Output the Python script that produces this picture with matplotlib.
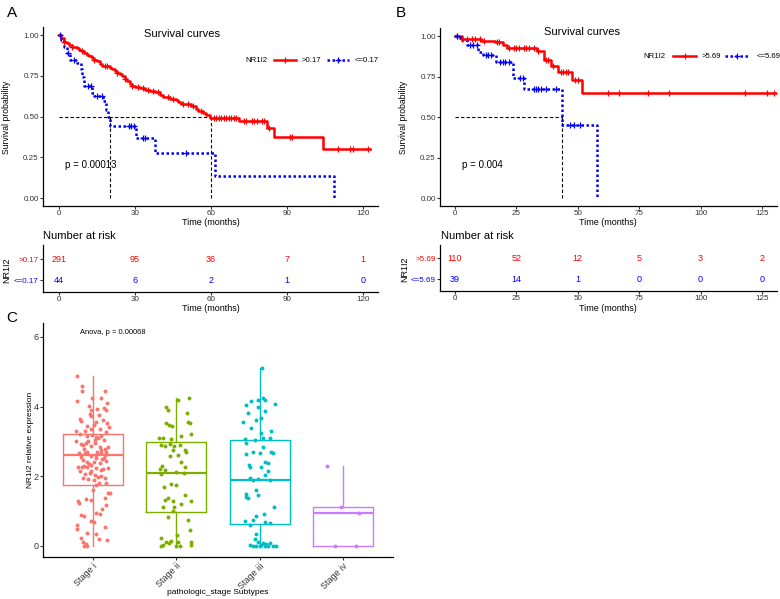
import matplotlib
matplotlib.use('Agg')
import matplotlib.pyplot as plt
import numpy as np
from matplotlib.lines import Line2D

plt.rcParams['font.family'] = ['Liberation Sans', 'DejaVu Sans']

# ---------------- data ----------------
# Panel A (cutoff 0.17)
red_A_t = [0, 1, 2, 3, 4, 5, 6, 7, 8, 9, 10, 11, 12, 13, 14, 15, 16, 17, 20, 21, 22, 23, 24, 25, 26,
           27, 28, 29, 30, 32, 34, 36, 38, 40, 41, 44, 46, 47, 48, 50, 52, 54, 55, 57, 58, 59.5, 71, 82, 85, 104]
red_A_s = [1.0, 0.98, 0.96, 0.95, 0.94, 0.93, 0.925, 0.92, 0.91, 0.90, 0.89, 0.88, 0.87, 0.86, 0.85, 0.84,
           0.82, 0.81, 0.80, 0.79, 0.78, 0.77, 0.76, 0.75, 0.73, 0.72, 0.70, 0.69, 0.68, 0.675, 0.665, 0.66,
           0.65, 0.635, 0.62, 0.61, 0.60, 0.59, 0.58, 0.575, 0.565, 0.545, 0.535, 0.52, 0.51, 0.492, 0.474,
           0.427, 0.376, 0.30]
red_A_end = 122.8
red_A_censor = [2, 5, 9, 14, 18, 19, 23, 26, 29, 31, 33, 35, 37, 39, 43, 45, 49, 51, 53, 56, 61, 62, 63, 64,
                65, 66, 67, 68, 69, 70, 73, 74, 76, 77, 78, 80, 81, 83, 91, 92, 110, 115, 116, 122]
blue_A_t = [0, 1, 2, 3, 4.5, 7, 8.5, 9.2, 9.8, 13, 14, 17.5, 18.5, 19.2, 20.1, 30.5, 37.8, 61.6, 108.7]
blue_A_s = [1.0, 0.97, 0.93, 0.89, 0.85, 0.83, 0.79, 0.74, 0.69, 0.645, 0.625, 0.595, 0.54, 0.50, 0.44,
            0.368, 0.276, 0.138, 0.0]
blue_A_end = 108.7
blue_A_censor = [0.5, 3.7, 6, 11.5, 12.5, 15, 17, 27.5, 28.5, 29.5, 33, 34, 50]
median_A = [20, 60]
risk_times_A = [0, 30, 60, 90, 120]
risk_hi_A = [291, 95, 36, 7, 1]
risk_lo_A = [44, 6, 2, 1, 0]
labels_A = ['>0.17', '<=0.17']

# Panel B (cutoff 5.69)
red_B_t = [0, 2.7, 10.5, 16.3, 19.7, 21, 33.3, 36.2, 39.1, 42, 47.5, 51.8]
red_B_s = [1.0, 0.98, 0.97, 0.963, 0.946, 0.926, 0.905, 0.85, 0.813, 0.78, 0.727, 0.65]
red_B_end = 131
red_B_censor = [1, 3, 5, 7, 8, 10, 12, 17, 18, 22, 24, 25, 26, 28, 29, 30, 32, 34, 37, 38, 40, 43, 44,
                45, 46, 49, 50, 62.4, 66.6, 78.7, 87.2, 118, 127, 130]
blue_B_t = [0, 2, 4.8, 9.5, 11.4, 16.9, 23.7, 28, 43.7, 58]
blue_B_s = [1.0, 0.977, 0.946, 0.90, 0.885, 0.84, 0.74, 0.675, 0.45, 0.0]
blue_B_end = 58
blue_B_censor = [1, 6, 7.5, 9, 12.5, 13.5, 14.5, 18.5, 19.5, 20.5, 22, 26.5, 27.5, 32, 33, 34, 35, 37,
                 41, 47, 48.5, 51]
median_B = [43.7]
risk_times_B = [0, 25, 50, 75, 100, 125]
risk_hi_B = [110, 52, 12, 5, 3, 2]
risk_lo_B = [39, 14, 1, 0, 0, 0]
labels_B = ['>5.69', '<=5.69']

# Panel C
stages = ['Stage i', 'Stage ii', 'Stage iii', 'Stage iv']
stage_colors = ['#F8766D', '#7CAE00', '#00BFC4', '#C77CFF']
box_q1 = [1.75, 0.97, 0.63, 0.0]
box_med = [2.61, 2.10, 1.90, 0.95]
box_q3 = [3.22, 2.99, 3.03, 1.11]
box_lo = [0.0, 0.0, 0.0, 0.0]
box_hi = [4.88, 4.24, 5.10, 2.30]

stage1_points = [
    (4.89, -0.19), (4.58, -0.13), (4.45, -0.13), (4.15, -0.19), (4.24, -0.01), (4.24, 0.10), (4.45, 0.14),
    (4.10, 0.17), (4.03, -0.05), (3.91, -0.02), (3.94, 0.05), (3.96, 0.13), (3.91, 0.15), (3.65, -0.16),
    (3.59, -0.14), (3.79, -0.04), (3.72, -0.02), (3.75, 0.07), (3.62, 0.12), (3.52, 0.17), (3.41, 0.19),
    (3.43, -0.07), (3.48, 0.01), (3.35, 0.08), (3.29, -0.21), (3.22, -0.16), (3.29, -0.10), (3.16, -0.07),
    (3.19, -0.01), (3.12, 0.04), (3.16, 0.10), (3.26, 0.15), (3.05, 0.13), (3.00, -0.20), (2.93, -0.14),
    (2.97, -0.09), (2.87, -0.03), (2.95, 0.02), (2.84, 0.08), (2.78, 0.14), (2.78, -0.11), (2.71, -0.07),
    (2.66, -0.17), (2.71, 0.05), (2.66, 0.10), (2.71, 0.16), (2.57, -0.02), (2.52, 0.04), (2.52, 0.13),
    (2.47, -0.12), (2.42, -0.07), (2.42, 0.01), (2.38, 0.08), (2.28, -0.18), (2.28, -0.13), (2.28, -0.07),
    (2.33, -0.02), (2.23, 0.18), (2.23, 0.04), (2.18, 0.10), (2.14, -0.16), (2.07, -0.10), (2.09, -0.04),
    (2.04, 0.02), (1.94, -0.12), (1.92, -0.06), (1.99, 0.06), (1.94, 0.14), (1.75, 0.03), (1.80, 0.07),
    (1.80, 0.16), (1.61, 0.00), (1.53, 0.18), (1.51, 0.20), (1.37, 0.14), (1.34, -0.09), (1.32, -0.02),
    (1.29, -0.18), (1.23, -0.17), (1.18, 0.15), (1.05, 0.11), (0.94, 0.04), (0.89, -0.14), (0.87, -0.11),
    (0.91, 0.08), (0.73, -0.03), (0.70, 0.01), (0.60, -0.19), (0.48, -0.19), (0.54, 0.14), (0.38, -0.07),
    (0.34, 0.04), (0.24, -0.15), (0.19, 0.07), (0.17, 0.17), (0.11, -0.12), (0.05, -0.09), (0.01, -0.07),
    (0.01, -0.11), (2.35, -0.05), (2.62, 0.03), (2.90, -0.12), (3.05, 0.02), (2.20, 0.12), (2.55, -0.15),
    (2.75, 0.09), (3.35, -0.03), (2.45, 0.16), (2.15, -0.02), (2.68, -0.10), (3.10, 0.06), (2.00, 0.09),
    (2.85, 0.18), (3.55, 0.04), (2.30, -0.11), (2.50, 0.11), (1.90, 0.01), (3.00, -0.06), (2.60, 0.14),
]
stage2_points = [
    (4.24, 0.15), (4.20, 0.02), (3.98, -0.12), (3.91, -0.10), (3.83, 0.13), (3.57, 0.14), (3.52, 0.16),
    (3.54, -0.13), (3.48, -0.09), (3.45, -0.05), (3.16, 0.06), (3.22, 0.18), (3.09, -0.21), (3.09, -0.16),
    (3.07, -0.06), (2.90, -0.19), (2.87, -0.14), (2.93, -0.08), (2.87, -0.03), (2.90, 0.04), (2.76, -0.04),
    (2.76, 0.10), (2.71, 0.11), (2.61, 0.02), (2.57, -0.08), (2.42, 0.06), (2.30, -0.17), (2.28, 0.10),
    (2.20, -0.20), (2.18, -0.14), (2.07, -0.18), (2.11, 0.00), (2.09, 0.09), (1.70, -0.15), (1.78, -0.06),
    (1.75, -0.01), (1.47, 0.10), (1.37, -0.10), (1.30, -0.04), (1.30, 0.18), (1.32, -0.14), (1.21, 0.06),
    (1.11, -0.16), (1.11, -0.03), (0.99, -0.04), (0.84, -0.10), (0.75, 0.14), (0.32, 0.01), (0.46, 0.16),
    (0.22, -0.18), (0.14, -0.06), (0.11, -0.13), (0.08, -0.09), (0.12, 0.02), (0.11, 0.18), (0.02, -0.16),
    (0.01, 0.00), (0.01, 0.04), (0.04, 0.18), (0.01, -0.18),
]
stage3_points = [
    (5.10, 0.03), (4.20, -0.02), (4.24, 0.04), (4.20, 0.06), (4.15, -0.10), (4.05, -0.16), (4.08, 0.18),
    (4.00, -0.02), (3.83, -0.14), (3.86, 0.06), (3.62, -0.05), (3.57, -0.20), (3.67, 0.02), (3.38, -0.10),
    (3.29, 0.13), (3.24, 0.02), (3.07, -0.18), (3.05, -0.06), (3.09, 0.04), (3.09, 0.12), (2.95, -0.16),
    (2.84, 0.04), (2.71, -0.08), (2.71, 0.14), (2.64, -0.17), (2.66, 0.00), (2.66, 0.16), (2.42, 0.06),
    (2.38, 0.10), (2.33, -0.13), (2.28, -0.12), (2.28, 0.01), (2.16, 0.10), (2.04, 0.06), (1.94, -0.12),
    (1.92, -0.02), (1.88, -0.08), (1.90, 0.12), (1.61, -0.05), (1.49, -0.16), (1.42, -0.17), (1.37, -0.14),
    (1.47, -0.02), (1.13, 0.17), (0.92, 0.05), (0.86, -0.04), (0.73, -0.18), (0.75, -0.08), (0.70, 0.06),
    (0.65, 0.12), (0.60, -0.12), (0.34, -0.04), (0.19, -0.06), (0.12, -0.02), (0.08, 0.04), (0.05, 0.08),
    (0.08, 0.12), (0.03, -0.12), (0.01, -0.08), (0.01, -0.04), (0.01, 0.00), (0.03, 0.02), (0.01, 0.10),
    (0.01, 0.16), (0.01, 0.20), (0.01, 0.06),
]
stage4_points = [(2.30, -0.19), (1.11, -0.02), (0.94, 0.19), (0.0, -0.10), (0.0, 0.16)]
stage_points = [stage1_points, stage2_points, stage3_points, stage4_points]

# ---------------- layout helpers ----------------
W, H = 780, 599
fig = plt.figure(figsize=(7.8, 5.99), dpi=100)


def add_ax(l, t, r, b):
    return fig.add_axes([l / W, 1 - b / H, (r - l) / W, (b - t) / H])


def ftext(x, y, s, **kw):
    fig.text(x / W, 1 - y / H, s, **kw)


def style(ax, size=5.8):
    for sp in ['top', 'right']:
        ax.spines[sp].set_visible(False)
    for sp in ['left', 'bottom']:
        ax.spines[sp].set_linewidth(0.9)
        ax.spines[sp].set_color('black')
    ax.tick_params(length=2, width=0.8, labelsize=size, labelcolor='#333333', color='#333333', pad=1)


def km(ax, t, s, end, color, ls, censor):
    tt = list(t) + [end]
    ss = list(s) + [s[-1]]
    ax.step(tt, ss, where='post', color=color, lw=1.8, ls=ls, zorder=3)
    idx = np.searchsorted(np.array(t), np.array(censor), side='right') - 1
    cs = np.array(s)[idx]
    ax.plot(censor, cs, ls='none', marker='+', ms=4, mew=0.9, color=color, zorder=4)


def fig_line(x1, x2, y, color, ls):
    fig.add_artist(Line2D([x1 / W, x2 / W], [1 - y / H, 1 - y / H], transform=fig.transFigure,
                          color=color, lw=1.8, ls=ls))
    fig.add_artist(Line2D([(x1 + x2) / 2 / W], [1 - y / H], transform=fig.transFigure,
                          color=color, marker='+', ms=4, mew=0.9, ls='none'))


DOT = (0, (1, 1))
DASH = (0, (3, 2))


def survival_panel(ax, red_t, red_s, red_end, red_c, blue_t, blue_s, blue_end, blue_c, med_x, xlim, xticks):
    style(ax)
    med_y = 0.5
    ax.plot([0, max(med_x)], [med_y, med_y], color='black', lw=0.8, ls=DASH, zorder=2)
    for m in med_x:
        ax.plot([m, m], [0, med_y], color='black', lw=0.8, ls=DASH, zorder=2)
    km(ax, red_t, red_s, red_end, 'red', '-', red_c)
    km(ax, blue_t, blue_s, blue_end, 'blue', DOT, blue_c)
    ax.set_xlim(*xlim)
    ax.set_ylim(-0.049, 1.05)
    ax.set_xticks(xticks)
    ax.set_yticks([0, 0.25, 0.5, 0.75, 1.0])
    ax.set_yticklabels(['0.00', '0.25', '0.50', '0.75', '1.00'])


def risk_panel(ax, times, hi, lo, labels, xlim, ylim):
    style(ax)
    for t, n in zip(times, hi):
        ax.text(t, 2, str(n), color='red', ha='center', va='center', fontsize=6.5)
    for t, n in zip(times, lo):
        ax.text(t, 1, str(n), color='blue', ha='center', va='center', fontsize=6.5)
    ax.set_xlim(*xlim)
    ax.set_ylim(*ylim)
    ax.set_xticks(times)
    ax.set_yticks([2, 1])
    ax.set_yticklabels(labels)
    for lab, c in zip(ax.get_yticklabels(), ['red', 'blue']):
        lab.set_color(c)


# ---------------- Panel A ----------------
axA = add_ax(43, 27, 378, 206)
survival_panel(axA, red_A_t, red_A_s, red_A_end, red_A_censor, blue_A_t, blue_A_s, blue_A_end,
               blue_A_censor, median_A, (-6.3, 125.9), risk_times_A)
ftext(12, 13, 'A', fontsize=11, ha='center', va='center')
ftext(182, 34, 'Survival curves', fontsize=8, ha='center', va='center')
ftext(65, 165, 'p = 0.00013', fontsize=7, ha='left', va='center')
ftext(7, 117, 'Survival probability', fontsize=6.2, rotation=90, ha='center', va='center')
ftext(211, 222, 'Time (months)', fontsize=6.5, ha='center', va='center')
ftext(245, 60, 'NR1I2', fontsize=5.6, ha='left', va='center')
fig_line(274, 296, 60, 'red', '-')
ftext(302, 60, labels_A[0], fontsize=5.6, ha='left', va='center')
fig_line(327, 349, 60, 'blue', DOT)
ftext(355, 60, labels_A[1], fontsize=5.6, ha='left', va='center')

rA = add_ax(43, 245, 378, 292)
risk_panel(rA, risk_times_A, risk_hi_A, risk_lo_A, labels_A, (-6.3, 125.9), (0.43, 2.67))
ftext(43, 236, 'Number at risk', fontsize=8, ha='left', va='center')
ftext(7, 270, 'NR1I2', fontsize=6.5, rotation=90, ha='center', va='center')
ftext(211, 308, 'Time (months)', fontsize=6.5, ha='center', va='center')

# ---------------- Panel B ----------------
axB = add_ax(440, 28, 777, 206)
survival_panel(axB, red_B_t, red_B_s, red_B_end, red_B_censor, blue_B_t, blue_B_s, blue_B_end,
               blue_B_censor, median_B, (-6.1, 131.1), risk_times_B)
ftext(401, 13, 'B', fontsize=11, ha='center', va='center')
ftext(582, 32, 'Survival curves', fontsize=8, ha='center', va='center')
ftext(462, 165, 'p = 0.004', fontsize=7, ha='left', va='center')
ftext(403, 117, 'Survival probability', fontsize=6.2, rotation=90, ha='center', va='center')
ftext(608, 222, 'Time (months)', fontsize=6.5, ha='center', va='center')
ftext(643, 56, 'NR1I2', fontsize=5.6, ha='left', va='center')
fig_line(673, 696, 56, 'red', '-')
ftext(702, 56, labels_B[0], fontsize=5.6, ha='left', va='center')
fig_line(725, 748, 56, 'blue', DOT)
ftext(757, 56, labels_B[1], fontsize=5.6, ha='left', va='center')

rB = add_ax(440, 245, 777, 291)
risk_panel(rB, risk_times_B, risk_hi_B, risk_lo_B, labels_B, (-6.1, 131.1), (0.43, 2.62))
ftext(441, 236, 'Number at risk', fontsize=8, ha='left', va='center')
ftext(405, 269, 'NR1I2', fontsize=6.5, rotation=90, ha='center', va='center')
ftext(608, 308, 'Time (months)', fontsize=6.5, ha='center', va='center')

# ---------------- Panel C ----------------
axC = add_ax(43, 323, 393, 557)
style(axC, size=6.5)
for i, (name, col) in enumerate(zip(stages, stage_colors)):
    stats = [dict(med=box_med[i], q1=box_q1[i], q3=box_q3[i], whislo=box_lo[i], whishi=box_hi[i],
                  label=name)]
    axC.bxp(stats, positions=[i + 1], widths=0.72, showfliers=False, showcaps=False,
            boxprops=dict(color=col, lw=1.0), whiskerprops=dict(color=col, lw=1.0),
            medianprops=dict(color=col, lw=1.6), manage_ticks=False)
    pts = np.array(stage_points[i])
    axC.scatter(i + 1 + pts[:, 1], pts[:, 0], s=8, color=col, linewidths=0, zorder=3)
axC.set_xlim(0.4, 4.6)
axC.set_ylim(-0.316, 6.40)
axC.set_yticks([0, 2, 4, 6])
axC.set_xticks([1, 2, 3, 4])
axC.set_xticklabels(stages, rotation=45, ha='right', va='top', rotation_mode='anchor')
ftext(12, 318, 'C', fontsize=11, ha='center', va='center')
ftext(80, 332, 'Anova, p = 0.00068', fontsize=5.4, ha='left', va='center')
ftext(30, 440, 'NR1I2 relative expression', fontsize=6, rotation=90, ha='center', va='center')
ftext(218, 592, 'pathologic_stage Subtypes', fontsize=6, ha='center', va='center')

fig.savefig('out.png', dpi=100)
